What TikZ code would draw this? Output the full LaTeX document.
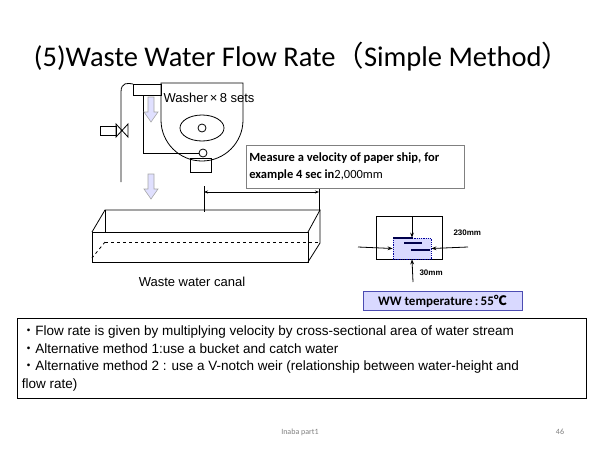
\documentclass[tikz,border=0pt]{standalone}
\usepackage{fontspec}
\setmainfont{Liberation Sans}
\newfontfamily\calib{Carlito}
\newfontfamily\cjk{Noto Sans CJK JP}
\usetikzlibrary{arrows.meta,positioning}

\begin{document}
\begin{tikzpicture}[x=1pt,y=-1pt,
        line/.style = {thick},
        flowarrow/.style = {draw=gray!70, fill=blue!12, line width=0.6pt},
        arrow/.style = {thick, -{Stealth[length=5pt]}},
        infobox/.style = {draw=gray, line width=0.6pt, fill=white, inner sep=3pt, align=flush left},
        label/.style = {font=\fontsize{13}{15}\selectfont}
        ]
        \useasboundingbox (0,0) rectangle (600,450);

        % title
        \node[font=\calib\fontsize{28.5}{30}\selectfont] (title) at (302,57) {(5)Waste Water Flow Rate{\cjk（}Simple Method{\cjk）}};

        % washer
        \draw[line] (161,120) -- (161,83) -- (243,83) -- (243,120) arc (0:180:41);
        \draw[line] (202,128) ellipse (22 and 13);
        \draw[line] (202,128) circle (4);
        \draw[line] (203,153) circle (4);
        \draw[line] (190,158) rectangle (211,172);
        \draw[line] (199,153) -- (143,153) -- (143,95);
        \draw[line] (133,84) rectangle (161,95);
        \draw[line] (121,182) -- (121,92) .. controls (121,82) and (128,83) .. (133,84);
        % valve
        \draw[line] (100,126) rectangle (116,135);
        \draw[line] (116,124) -- (128,137) -- (128,124) -- (116,137) -- cycle;
        \node[label, anchor=west] (washer) at (160,98) {Washer\,×\,8 sets};

        % flow arrows
        \foreach \ytop in {97,174}
            \draw[flowarrow] (148,\ytop) -- (154,\ytop) -- (154,\ytop+15) -- (158,\ytop+15)
                -- (151,\ytop+25) -- (144,\ytop+15) -- (148,\ytop+15) -- cycle;

        % canal
        \draw[line] (92,232) rectangle (308,262);
        \draw[line] (92,232) -- (105,210) -- (320,210) -- (308,232);
        \draw[line] (320,210) -- (320,243) -- (308,262);
        \draw[line] (105,210) -- (105,233);
        \draw[thick, dashed] (105,242) -- (320,242);
        \draw[thick, dashed] (105,242) -- (92,258);
        \node[label] (canal) at (192,282) {Waste water canal};

        % measuring distance
        \coordinate (m1) at (204,192);
        \coordinate (m2) at (319,192);
        \draw[line] (204,186) -- (204,212);
        \draw[line] (319,186) -- (319,210);
        \draw[thick, {Stealth[length=4pt]}-{Stealth[length=4pt]}] (m1) -- (m2);
        \node[infobox, anchor=north west, text width=212pt, minimum height=43pt, font=\calib\bfseries\fontsize{12.5}{17}\selectfont] (measure) at (246,145)
            {Measure a velocity of paper ship, for\\example 4 sec in{\mdseries 2,000mm}};

        % cross section
        \draw[line] (376,216) rectangle (442,259);
        \node[draw=blue!60!black, densely dotted, thick, fill=blue!15, minimum width=38pt, minimum height=21pt, inner sep=0pt] (water) at (412,248.5) {};
        \draw[line width=1.5pt, blue!30!black] (393,238) -- (413,238);
        \draw[line width=1.2pt, blue!30!black] (404,243) -- (422,243);
        \draw[line width=1.2pt, blue!30!black] (411,250) -- (430,250);
        \coordinate (top) at (412,216);
        \coordinate (lft) at (358,247);
        \coordinate (rgt) at (468,247);
        \coordinate (bot) at (413,282);
        \draw[arrow] (top) -- (water.north);
        \draw[arrow] (lft) -- (water.west);
        \draw[arrow] (rgt) -- (water.east);
        \draw[arrow] (bot) -- (water.south);
        \node[font=\fontsize{8}{9}\selectfont\bfseries, anchor=west] (width) at (450,233) {230mm};
        \node[font=\fontsize{8}{9}\selectfont\bfseries, anchor=west] (depth) at (416,273) {30mm};

        \node[draw=blue!40!gray, line width=0.8pt, fill=blue!15, minimum width=159pt, minimum height=18pt,
              font=\calib\bfseries\fontsize{13}{15}\selectfont] (temp) at (442.5,301) {WW temperature\,:\,55{\cjk ℃}};

        % notes
        \node[draw, line width=0.6pt, anchor=north west, minimum width=569pt, minimum height=80pt, text width=560pt,
              inner sep=4pt, font=\fontsize{13.5}{17.5}\selectfont, align=flush left] (notes) at (17,318)
            {{\cjk ・}Flow rate is given by multiplying velocity by cross-sectional area of water stream\\
             {\cjk ・}Alternative method 1:use a bucket and catch water\\
             {\cjk ・}Alternative method 2 : use a V-notch weir (relationship between water-height and\\flow rate)};

        \node[font=\calib\fontsize{8}{9}\selectfont, text=gray] (foot) at (300,432) {Inaba part1};
        \node[font=\calib\fontsize{8}{9}\selectfont, text=gray] (page) at (560,432) {46};
    \end{tikzpicture}
\end{document}
